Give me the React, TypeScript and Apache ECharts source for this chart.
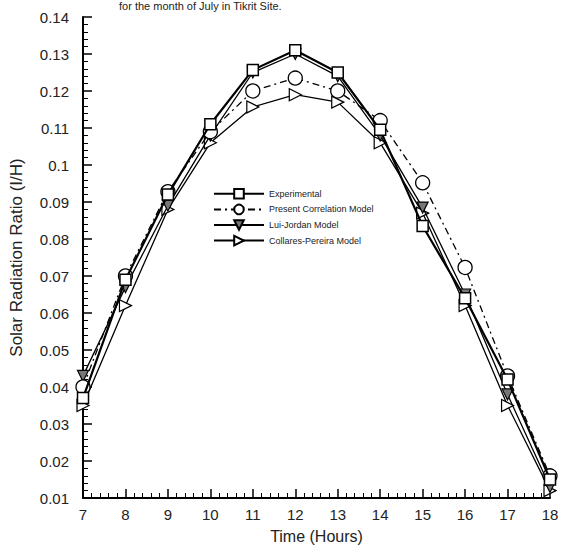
import React, { useEffect, useRef } from "react";
import * as echarts from "echarts";

const hours = [7, 8, 9, 10, 11, 12, 13, 14, 15, 16, 17, 18];
const experimental = [0.037, 0.069, 0.092, 0.111, 0.1257, 0.131, 0.125, 0.1095, 0.0835, 0.064, 0.042, 0.015];
const presentModel = [0.040, 0.070, 0.0928, 0.109, 0.120, 0.1235, 0.120, 0.112, 0.0952, 0.0723, 0.043, 0.016];
const luiJordan = [0.043, 0.067, 0.089, 0.108, 0.125, 0.130, 0.124, 0.108, 0.0885, 0.065, 0.038, 0.013];
const collaresPereira = [0.035, 0.062, 0.088, 0.106, 0.1157, 0.119, 0.117, 0.106, 0.087, 0.062, 0.035, 0.012];

const seriesNames = ["Experimental", "Present Correlation Model", "Lui-Jordan Model", "Collares-Pereira Model"];

export default function App() {
  const ref = useRef<HTMLDivElement>(null);
  useEffect(() => {
    if (!ref.current) return;
    const chart = echarts.init(ref.current, null, { renderer: "svg" });
    const pairs = (ys: number[]) => hours.map((h, i) => [h, ys[i]]);
    const font = "Arial, 'Liberation Sans', sans-serif";
    chart.setOption({
      animation: false,
      backgroundColor: "#fff",
      textStyle: { fontFamily: font },
      graphic: [
        {
          type: "text",
          left: 119,
          top: 0,
          style: { text: "for the month of July in Tikrit Site.", fontSize: 11, fill: "#222", fontFamily: font },
        },
      ],
      grid: { left: 79, right: 12, top: 17, bottom: 49, containLabel: false },
      legend: {
        orient: "vertical",
        left: 208,
        top: 183,
        itemWidth: 50,
        itemHeight: 12,
        itemGap: 4,
        textStyle: { fontSize: 9, color: "#222", fontFamily: font },
        data: seriesNames,
      },
      xAxis: {
        type: "value",
        min: 7,
        max: 18,
        interval: 1,
        name: "Time (Hours)",
        nameLocation: "middle",
        nameGap: 30,
        nameTextStyle: { fontSize: 16, color: "#222" },
        axisLine: { lineStyle: { color: "#000", width: 2 } },
        axisTick: { inside: true, length: 9, lineStyle: { color: "#000", width: 1.5 } },
        minorTick: { show: true, splitNumber: 5, length: 5, lineStyle: { color: "#000", width: 1 } },
        axisLabel: { fontSize: 15, color: "#222", margin: 9 },
        splitLine: { show: false },
      },
      yAxis: {
        type: "value",
        min: 0.01,
        max: 0.14,
        interval: 0.01,
        name: "Solar Radiation Ratio (I/H)",
        nameLocation: "middle",
        nameGap: 58,
        nameTextStyle: { fontSize: 17, color: "#222" },
        axisLine: { show: true, lineStyle: { color: "#000", width: 2 } },
        axisTick: { inside: true, length: 9, lineStyle: { color: "#000", width: 1.5 } },
        minorTick: { show: true, splitNumber: 5, length: 5, lineStyle: { color: "#000", width: 1 } },
        axisLabel: {
          fontSize: 15,
          color: "#222",
          margin: 14,
          formatter: (v: number) => String(parseFloat(v.toFixed(2))),
        },
        splitLine: { show: false },
      },
      series: [
        {
          name: seriesNames[0],
          type: "line",
          data: pairs(experimental),
          symbol: "rect",
          symbolSize: 11,
          lineStyle: { color: "#000", width: 2.2 },
          itemStyle: { color: "#fff", borderColor: "#000", borderWidth: 1.5 },
          z: 5,
        },
        {
          name: seriesNames[1],
          type: "line",
          data: pairs(presentModel),
          symbol: "circle",
          symbolSize: 14,
          lineStyle: { color: "#000", width: 1.3, type: [7, 4, 2, 4] },
          itemStyle: { color: "#fff", borderColor: "#000", borderWidth: 1.3 },
          z: 4,
        },
        {
          name: seriesNames[2],
          type: "line",
          data: pairs(luiJordan),
          symbol: "triangle",
          symbolRotate: 180,
          symbolSize: 11,
          lineStyle: { color: "#000", width: 1.3 },
          itemStyle: { color: "#777", borderColor: "#000", borderWidth: 1.2 },
          z: 3,
        },
        {
          name: seriesNames[3],
          type: "line",
          data: pairs(collaresPereira),
          symbol: "triangle",
          symbolRotate: -90,
          symbolSize: 12,
          lineStyle: { color: "#000", width: 1.3 },
          itemStyle: { color: "#fff", borderColor: "#000", borderWidth: 1.2 },
          z: 2,
        },
      ],
    });
    return () => chart.dispose();
  }, []);
  return <div ref={ref} style={{ width: 562, height: 549, position: "absolute", left: 0, top: 0 }} />;
}
